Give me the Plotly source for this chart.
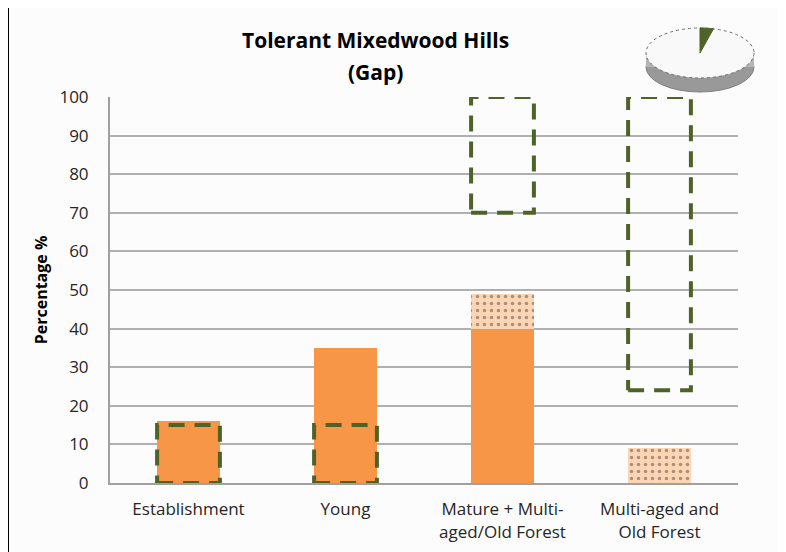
import numpy as np
import plotly.graph_objects as go

# chart data
categories = ["Establishment", "Young", "Mature + Multi-<br>aged/Old Forest", "Multi-aged and<br>Old Forest"]
current_pct = [16, 35, 40, 0]
dotted_pct = [0, 0, 9, 9]
range_low = [0, 0, 70, 24]
range_high = [15, 15, 100, 100]
pie_share = 4  # green slice of the icon, percent
y_ticks = list(range(0, 101, 10))

# the page adds an 8px body margin, so lay out in screen pixels minus that
OFF = 8
W, H = 786 - OFF, 552 - OFF
L, T = 110 - OFF, 97 - OFF
R = W - (738 - OFF)
B = H - (483 - OFF)
PW, PH = W - L - R, H - T - B
BAR_W = 0.4


def px_to_paper(x, y):
    # screen pixel -> paper coords
    return (x - OFF - L) / PW, (H - B - (y - OFF)) / PH


idx = np.arange(len(categories))

fig = go.Figure()

fig.add_trace(go.Bar(x=idx, y=current_pct, width=BAR_W,
                     marker=dict(color='#f79646', line=dict(width=0)),
                     name='Current'))

fig.add_trace(go.Bar(x=idx, y=dotted_pct, width=BAR_W,
                     marker=dict(color='#fcd5b5', line=dict(width=0),
                                 pattern=dict(shape='.', fgcolor='#5a4a40', bgcolor='#fcd5b5',
                                              size=7, solidity=0.2)),
                     name='Other'))

# dashed range boxes
box_x, box_y = [], []
for i, lo, hi in zip(idx, range_low, range_high):
    x0, x1 = i - BAR_W / 2, i + BAR_W / 2
    box_x += [x0, x1, x1, x0, x0, None]
    box_y += [lo, lo, hi, hi, lo, None]
fig.add_trace(go.Scatter(x=box_x, y=box_y, mode='lines',
                         line=dict(color='#4f6228', width=4, dash='16px,10px'),
                         name='Range', hoverinfo='skip'))

shapes = []
# frame
fx0, fy0 = px_to_paper(8, 6)
fx1, fy1 = px_to_paper(781, 570)
shapes.append(dict(type='rect', xref='paper', yref='paper', x0=fx0, y0=fy1, x1=fx1, y1=fy0,
                   line=dict(color='black', width=2), fillcolor='#fcfcfc', layer='below'))

# pie icon (3d look)
cx, cy, rx, ry, depth = 700, 53, 54, 25, 14
sx0, sy0 = px_to_paper(cx - rx, cy - ry + depth)
sx1, sy1 = px_to_paper(cx + rx, cy + ry + depth)
shapes.append(dict(type='circle', xref='paper', yref='paper', x0=sx0, y0=sy1, x1=sx1, y1=sy0,
                   fillcolor='#999999', line=dict(color='#7f7f7f', width=1), layer='above'))
rx0, ry0 = px_to_paper(cx - rx, cy)
rx1, ry1 = px_to_paper(cx + rx, cy + depth)
shapes.append(dict(type='rect', xref='paper', yref='paper', x0=rx0, y0=ry1, x1=rx1, y1=ry0,
                   fillcolor='#b5b5b5', line=dict(width=0), layer='above'))
tx0, ty0 = px_to_paper(cx - rx, cy - ry)
tx1, ty1 = px_to_paper(cx + rx, cy + ry)
shapes.append(dict(type='circle', xref='paper', yref='paper', x0=tx0, y0=ty1, x1=tx1, y1=ty0,
                   fillcolor='#f9f9f9', line=dict(color='#6f6f6f', width=1, dash='dot'), layer='above'))
ang = np.linspace(0, pie_share / 100 * 2 * np.pi, 8)
pts = [px_to_paper(cx, cy)] + [px_to_paper(cx + rx * np.sin(a), cy - ry * np.cos(a)) for a in ang]
path = 'M ' + ' L '.join(f'{px:.4f},{py:.4f}' for px, py in pts) + ' Z'
shapes.append(dict(type='path', xref='paper', yref='paper', path=path,
                   fillcolor='#4f6228', line=dict(color='#4f6228', width=1), layer='above'))

annotations = []
for text, ypx in [('<b>Tolerant Mixedwood Hills</b>', 40), ('<b>(Gap)</b>', 72)]:
    ax, ay = px_to_paper(375, ypx)
    annotations.append(dict(text=text, x=ax, y=ay, xref='paper', yref='paper', showarrow=False,
                            xanchor='center', yanchor='middle',
                            font=dict(family='Open Sans', size=21, color='black')))

fig.update_layout(
    width=W, height=H,
    margin=dict(l=L, r=R, t=T, b=B, autoexpand=False),
    barmode='stack',
    showlegend=False,
    paper_bgcolor='white',
    plot_bgcolor='rgba(0,0,0,0)',
    shapes=shapes,
    annotations=annotations,
    font=dict(family='Open Sans', color='#262626'),
)
fig.update_xaxes(range=[-0.5, len(categories) - 0.5], tickvals=idx, ticktext=categories,
                 showgrid=False, showline=True, linecolor='#a0a0a0', linewidth=2,
                 tickfont=dict(size=17), ticks='', ticklabelstandoff=10, zeroline=False)
fig.update_yaxes(range=[0, 100], tickvals=y_ticks, showgrid=True, gridcolor='#b0b0b0', gridwidth=1.5,
                 showline=True, linecolor='#a0a0a0', linewidth=2, zeroline=False,
                 tickfont=dict(size=17), ticks='', ticklabelstandoff=16,
                 title=dict(text='<b>Percentage %</b>', font=dict(size=16, color='black'), standoff=8))

fig.write_html("out.html")
